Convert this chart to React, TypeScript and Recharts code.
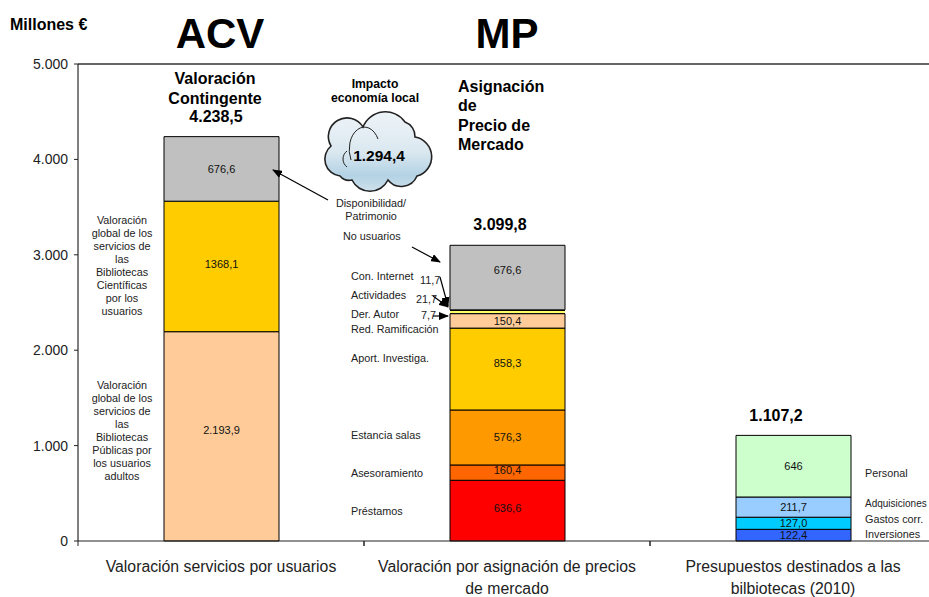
import { BarChart, Bar, XAxis, YAxis, ReferenceLine, LabelList } from 'recharts';

const categories = [
  'Valoración servicios por usuarios',
  'Valoración por asignación de precios de mercado',
  'Presupuestos destinados a las bilbiotecas (2010)',
];
const categoryLines = [
  ['Valoración servicios por usuarios'],
  ['Valoración por asignación de precios', 'de mercado'],
  ['Presupuestos destinados a las', 'bilbiotecas (2010)'],
];
const yTicks = [0, 1000, 2000, 3000, 4000, 5000];

// bottom to top in each stack
const acvValues = [2193.9, 1368.1, 676.6];
const acvLabels = ['2.193,9', '1368,1', '676,6'];
const mpValues = [636.6, 160.4, 576.3, 858.3, 150.4, 7.7, 21.7, 11.7, 676.6];
const mpLabels = ['636,6', '160,4', '576,3', '858,3', '150,4', '', '', '', '676,6'];
const budgetValues = [122.4, 127.0, 211.7, 646];
const budgetLabels = ['122,4', '127,0', '211,7', '646'];

const acvColors = ['#FFCC99', '#FFCC00', '#C0C0C0'];
const mpColors = ['#FF0000', '#FF6600', '#FF9900', '#FFCC00', '#FFCC99', '#000000', '#FFFF66', '#000000', '#C0C0C0'];
const budgetColors = ['#3366FF', '#00CCFF', '#99CCFF', '#CCFFCC'];

// the labels in the original are not all centred in their segment
const labelNudge: Record<string, number> = {
  '2.193,9': -6,
  '1368,1': -2,
  '636,6': -3,
  '160,4': -3,
  '858,3': -6,
  '676,6': 0,
};

const stacks = [
  { values: acvValues, labels: acvLabels, colors: acvColors },
  { values: mpValues, labels: mpLabels, colors: mpColors },
  { values: budgetValues, labels: budgetLabels, colors: budgetColors },
];

const rows: Record<string, string | number>[] = categories.map((name) => ({ name }));
const series: { key: string; color: string; label: string; cat: number }[] = [];
stacks.forEach((stack, cat) => {
  stack.values.forEach((v, i) => {
    const key = `s${cat}_${i}`;
    rows[cat][key] = v;
    series.push({ key, color: stack.colors[i], label: stack.labels[i], cat });
  });
});

const FONT = '"Liberation Sans", Arial, sans-serif';

function formatTick(v: number) {
  return v === 0 ? '0' : `${v / 1000}.000`;
}

function CategoryTick({ x, y, index }: any) {
  const half = 143;
  return (
    <g>
      <line x1={x - half} x2={x - half} y1={y} y2={y + 5} stroke="#222" />
      {index === 2 ? null : <line x1={x + half} x2={x + half} y1={y} y2={y + 5} stroke="#222" />}
      {categoryLines[index].map((line, i) => (
        <text key={line} x={x} y={y + 30.5 + i * 22.5} textAnchor="middle" fontSize={15.8} fill="#222" fontFamily={FONT}>
          {line}
        </text>
      ))}
    </g>
  );
}

function segmentLabel(s: { label: string; cat: number }) {
  return ({ x, y, width, height }: any) => {
    // bar 2's top 676,6 sits higher than the same value in bar 1
    const nudge = s.label === '676,6' && s.cat === 1 ? -8 : labelNudge[s.label] ?? 0;
    return (
      <text
        x={x + width / 2}
        y={y + height / 2 + 4 + nudge}
        textAnchor="middle"
        fontSize={11}
        fill="#111"
        fontFamily={FONT}
      >
        {s.label}
      </text>
    );
  };
}

function Note({ x, y, children, size = 10.8, bold = false, anchor = 'start' }: any) {
  return (
    <text
      x={x}
      y={y}
      fontSize={size}
      fontWeight={bold ? 700 : 400}
      textAnchor={anchor}
      fill={bold ? '#000' : '#222'}
      fontFamily={FONT}
    >
      {children}
    </text>
  );
}

function Arrow({ x1, y1, x2, y2 }: any) {
  return <line x1={x1} y1={y1} x2={x2} y2={y2} stroke="#000" strokeWidth={1.2} markerEnd="url(#head)" />;
}

function Cloud() {
  return (
    <g>
      <path
        d="M340 176 A17 17 0 0 1 331 146 A18 18 0 0 1 363 127 A24 24 0 0 1 405 122 A15 15 0 0 1 415 137 A20 20 0 0 1 417 176 A17 17 0 0 1 388 180 A20 20 0 0 1 352 180 A12 12 0 0 1 340 176 Z"
        fill="url(#cloudFill)"
        stroke="#222"
        strokeWidth={1.6}
      />
      <path d="M351 160 A15 22 0 0 1 378 139" fill="none" stroke="#222" strokeWidth={1} />
      <path d="M347 167 A10 10 0 0 1 347 151" fill="none" stroke="#222" strokeWidth={1} />
    </g>
  );
}

const leftUpper = ['Valoración', 'global de los', 'servicios de', 'las', 'Bibliotecas', 'Científicas', 'por los', 'usuarios'];
const leftLower = ['Valoración', 'global de los', 'servicios de', 'las', 'Bibliotecas', 'Públicas por', 'los usuarios', 'adultos'];

export default function App() {
  return (
    <div style={{ position: 'absolute', left: 0, top: 0, width: 929, height: 597, overflow: 'hidden', background: '#fff' }}>
      <BarChart
        width={940}
        height={597}
        data={rows}
        margin={{ top: 64, right: 4, bottom: 0, left: 0 }}
        barSize={115}
      >
        <XAxis
          dataKey="name"
          height={56}
          interval={0}
          tickLine={false}
          tickSize={0}
          tickMargin={0}
          axisLine={{ stroke: '#222' }}
          tick={<CategoryTick />}
        />
        <YAxis
          width={78}
          domain={[0, 5000]}
          ticks={yTicks}
          tickFormatter={formatTick}
          tickSize={4}
          tickMargin={6}
          axisLine={{ stroke: '#000' }}
          tickLine={{ stroke: '#222' }}
          tick={{ fontSize: 14, fill: '#222', fontFamily: FONT }}
        />
        <ReferenceLine y={5000} stroke="#333" strokeWidth={1.5} />
        {series.map((s) => (
          <Bar
            key={s.key}
            dataKey={s.key}
            stackId="a"
            fill={s.color}
            stroke={s.label ? '#000' : 'none'}
            strokeWidth={1}
            isAnimationActive={false}
          >
            {s.label ? <LabelList dataKey={s.key} content={segmentLabel(s)} /> : null}
          </Bar>
        ))}
      </BarChart>

      <svg width={929} height={597} style={{ position: 'absolute', left: 0, top: 0 }}>
        <defs>
          <marker id="head" markerWidth="10" markerHeight="8" refX="9" refY="4" orient="auto" markerUnits="userSpaceOnUse">
            <path d="M0 0 L10 4 L0 8 Z" fill="#000" />
          </marker>
          <linearGradient id="cloudFill" x1="0" y1="0" x2="0" y2="1">
            <stop offset="0" stopColor="#eef4f8" />
            <stop offset="0.5" stopColor="#dbe8f0" />
            <stop offset="0.8" stopColor="#b3d2e4" />
            <stop offset="1" stopColor="#cfe2ec" />
          </linearGradient>
        </defs>

        <Note x={10} y={30} size={16} bold>Millones €</Note>
        <Note x={220} y={48} size={42} bold anchor="middle">ACV</Note>
        <Note x={507} y={48} size={42} bold anchor="middle">MP</Note>

        <Note x={215} y={84} size={16} bold anchor="middle">Valoración</Note>
        <Note x={215} y={104} size={16} bold anchor="middle">Contingente</Note>
        <Note x={216} y={122} size={16} bold anchor="middle">4.238,5</Note>

        <Note x={375} y={88} size={12.2} bold anchor="middle">Impacto</Note>
        <Note x={375} y={102} size={12.2} bold anchor="middle">economía local</Note>
        <Cloud />
        <Note x={379} y={161} size={15.5} bold anchor="middle">1.294,4</Note>

        <Note x={458} y={92} size={16} bold>Asignación</Note>
        <Note x={458} y={111} size={16} bold>de</Note>
        <Note x={458} y={131} size={16} bold>Precio de</Note>
        <Note x={458} y={150} size={16} bold>Mercado</Note>

        <Note x={500} y={230} size={16} bold anchor="middle">3.099,8</Note>
        <Note x={776} y={421} size={16} bold anchor="middle">1.107,2</Note>

        {leftUpper.map((t, i) => (
          <Note key={`u${i}`} x={122} y={224 + i * 13} anchor="middle">{t}</Note>
        ))}
        {leftLower.map((t, i) => (
          <Note key={`l${i}`} x={122} y={389 + i * 13} anchor="middle">{t}</Note>
        ))}

        <Note x={371} y={207} anchor="middle">Disponibilidad/</Note>
        <Note x={371} y={220} anchor="middle">Patrimonio</Note>
        <Note x={343} y={240}>No usuarios</Note>
        <Note x={351} y={280}>Con. Internet</Note>
        <Note x={420} y={284}>11,7</Note>
        <Note x={351} y={299}>Actividades</Note>
        <Note x={416} y={303}>21,7</Note>
        <Note x={351} y={318}>Der. Autor</Note>
        <Note x={421} y={319}>7,7</Note>
        <Note x={351} y={333}>Red. Ramificación</Note>
        <Note x={351} y={362}>Aport. Investiga.</Note>
        <Note x={351} y={439}>Estancia salas</Note>
        <Note x={351} y={477}>Asesoramiento</Note>
        <Note x={351} y={515}>Préstamos</Note>

        <Note x={865} y={477}>Personal</Note>
        <Note x={865} y={507} size={10}>Adquisiciones</Note>
        <Note x={865} y={523}>Gastos corr.</Note>
        <Note x={865} y={538}>Inversiones</Note>

        <Arrow x1={328} y1={200} x2={273} y2={170} />
        <Arrow x1={412} y1={247} x2={440} y2={262} />
        <Arrow x1={440} y1={277} x2={448} y2={306} />
        <Arrow x1={433} y1={296} x2={448} y2={307} />
        <Arrow x1={433} y1={316} x2={448} y2={316} />
      </svg>
    </div>
  );
}
